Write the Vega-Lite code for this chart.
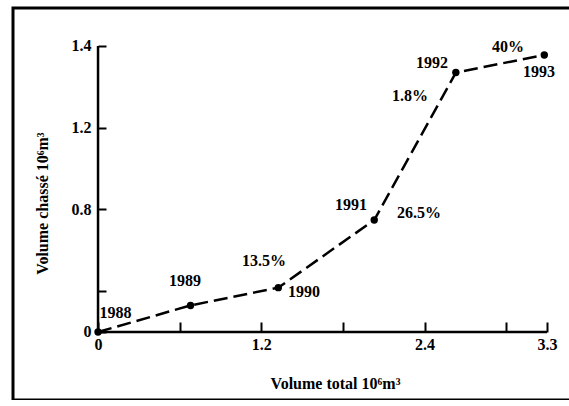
{
  "$schema": "https://vega.github.io/schema/vega-lite/v6.json",
  "width": 560,
  "height": 392,
  "autosize": {"type": "none"},
  "padding": {"left": 13, "top": 8, "right": 0, "bottom": 0},
  "background": "white",
  "config": {
    "view": {"stroke": "black", "strokeWidth": 3},
    "font": "Liberation Serif",
    "axis": {
      "labelFont": "Liberation Serif",
      "labelFontSize": 16,
      "labelFontWeight": "bold",
      "labelColor": "black",
      "titleFont": "Liberation Serif",
      "titleFontSize": 16,
      "titleFontWeight": "bold",
      "titleColor": "black",
      "domain": false,
      "grid": false,
      "tickColor": "black",
      "tickWidth": 2
    }
  },
  "datasets": {
    "pts": [
      {"x": 0, "y": 0, "year": "1988"},
      {"x": 0.68, "y": 0.13, "year": "1989"},
      {"x": 1.325, "y": 0.217, "year": "1990"},
      {"x": 2.03, "y": 0.548, "year": "1991"},
      {"x": 2.63, "y": 1.27, "year": "1992"},
      {"x": 3.28, "y": 1.356, "year": "1993"}
    ],
    "labels": [
      {"lx": 0.128, "ly": 0.094, "text": "1988"},
      {"lx": 0.639, "ly": 0.25, "text": "1989"},
      {"lx": 1.22, "ly": 0.347, "text": "13.5%"},
      {"lx": 1.514, "ly": 0.196, "text": "1990"},
      {"lx": 1.859, "ly": 0.622, "text": "1991"},
      {"lx": 2.359, "ly": 0.583, "text": "26.5%"},
      {"lx": 2.293, "ly": 1.153, "text": "1.8%"},
      {"lx": 2.455, "ly": 1.317, "text": "1992"},
      {"lx": 3.014, "ly": 1.397, "text": "40%"},
      {"lx": 3.242, "ly": 1.275, "text": "1993"}
    ]
  },
  "layer": [
    {
      "data": {"name": "pts"},
      "mark": {"type": "line", "color": "black", "strokeWidth": 2.5, "strokeDash": [14, 6]},
      "encoding": {
        "x": {
          "field": "x", "type": "quantitative",
          "scale": {"domain": [-0.625, 3.491], "nice": false, "zero": false},
          "axis": {
            "orient": "bottom", "offset": -68,
            "values": [0, 0.6, 1.2, 1.8, 2.4, 3.0, 3.3],
            "labelExpr": "datum.value == 0 ? '0' : datum.value == 1.2 ? '1.2' : datum.value == 2.4 ? '2.4' : datum.value == 3.3 ? '3.3' : ''",
            "tickSize": -10,
            "labelPadding": 14,
            "title": "Volume total 10⁶m³",
            "titleX": 322, "titleY": 51, "titleAlign": "center", "titleBaseline": "middle"
          }
        },
        "y": {
          "field": "y", "type": "quantitative",
          "scale": {"domain": [-0.333, 1.586], "nice": false, "zero": false},
          "axis": {
            "orient": "left", "offset": -85,
            "values": [0, 0.2, 0.6, 1.0, 1.4],
            "labelExpr": "datum.value == 0 ? '0' : datum.value == 0.6 ? '0.8' : datum.value == 1 ? '1.2' : datum.value == 1.4 ? '1.4' : ''",
            "tickSize": -8,
            "labelPadding": 15,
            "title": "Volume chassé 10⁶m³",
            "titleX": -56, "titleY": 195, "titleAlign": "center", "titleBaseline": "middle", "titleAngle": -90
          }
        }
      }
    },
    {
      "data": {"name": "pts"},
      "mark": {"type": "point", "filled": true, "color": "black", "size": 55, "opacity": 1},
      "encoding": {
        "x": {"field": "x", "type": "quantitative"},
        "y": {"field": "y", "type": "quantitative"}
      }
    },
    {
      "data": {"values": [{}]},
      "mark": {"type": "rule", "color": "black", "strokeWidth": 2.5},
      "encoding": {
        "x": {"datum": 0}, "x2": {"datum": 3.3},
        "y": {"datum": 0}
      }
    },
    {
      "data": {"values": [{}]},
      "mark": {"type": "rule", "color": "black", "strokeWidth": 2.5},
      "encoding": {
        "x": {"datum": 0},
        "y": {"datum": 0}, "y2": {"datum": 1.4}
      }
    },
    {
      "data": {"name": "labels"},
      "mark": {"type": "text", "font": "Liberation Serif", "fontSize": 16, "fontWeight": "bold", "color": "black", "align": "center", "baseline": "middle"},
      "encoding": {
        "x": {"field": "lx", "type": "quantitative"},
        "y": {"field": "ly", "type": "quantitative"},
        "text": {"field": "text"}
      }
    }
  ]
}
